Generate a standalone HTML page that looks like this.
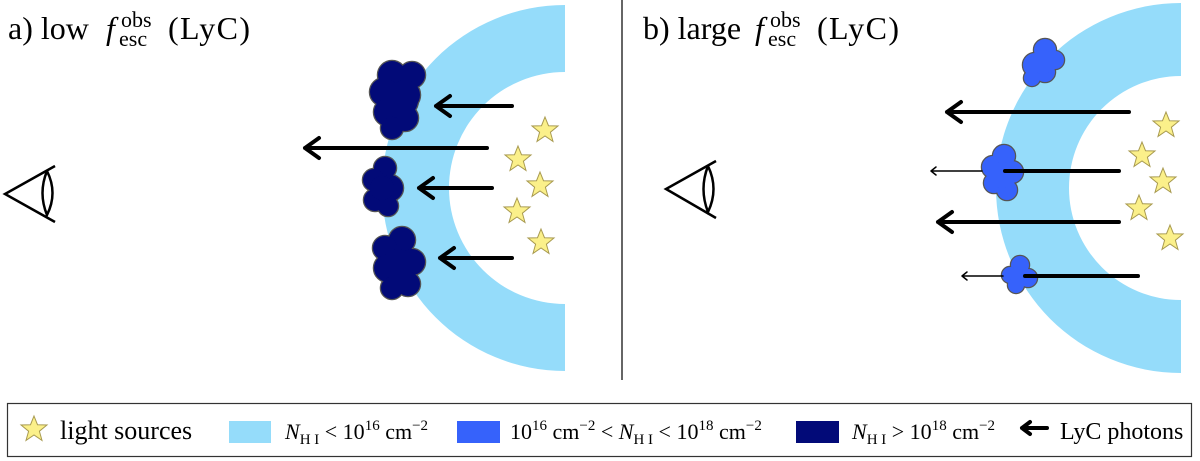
<!DOCTYPE html>
<html><head><meta charset="utf-8"><style>
body{margin:0;background:#fff;}
svg{display:block;}
text{font-family:"Liberation Serif",serif;fill:#000;}
</style></head><body>
<svg width="1200" height="461" viewBox="0 0 1200 461" xmlns="http://www.w3.org/2000/svg">
<defs>
<g id="star"><polygon points="0,-13 3.5,-4.3 13,-4 5.4,2.2 8,11.4 0,6 -8,11.4 -5.4,2.2 -13,-4 -3.5,-4.3" fill="#fbf08a" stroke="#a89a50" stroke-width="1"/></g>
<g id="c1"><circle cx="392" cy="75" r="14"/><circle cx="412" cy="75" r="13"/><circle cx="384" cy="92" r="14"/><circle cx="405" cy="95" r="15"/><circle cx="388" cy="112" r="14"/><circle cx="405" cy="118" r="13"/><circle cx="392" cy="128" r="11"/><circle cx="400" cy="100" r="18"/></g>
<g id="c2"><circle cx="385" cy="168" r="11"/><circle cx="374" cy="180" r="11"/><circle cx="390" cy="188" r="13"/><circle cx="375" cy="200" r="11"/><circle cx="388" cy="206" r="10"/><circle cx="382" cy="188" r="12"/></g>
<g id="c3"><circle cx="402" cy="240" r="13"/><circle cx="385" cy="248" r="12"/><circle cx="412" cy="262" r="13"/><circle cx="388" cy="268" r="14"/><circle cx="408" cy="284" r="12"/><circle cx="392" cy="288" r="11"/><circle cx="398" cy="265" r="16"/></g>
<g id="b1"><circle cx="1045" cy="50" r="11"/><circle cx="1055" cy="60" r="9"/><circle cx="1035" cy="65" r="12"/><circle cx="1045" cy="72" r="10"/><circle cx="1032" cy="78" r="8"/><circle cx="1043" cy="62" r="12"/></g>
<g id="b2"><circle cx="1004" cy="156" r="11"/><circle cx="993" cy="167" r="11"/><circle cx="1012" cy="172" r="11"/><circle cx="994" cy="183" r="10"/><circle cx="1007" cy="190" r="10"/><circle cx="1002" cy="175" r="13"/></g>
<g id="b3"><circle cx="1020" cy="265" r="9"/><circle cx="1010" cy="275" r="8"/><circle cx="1028" cy="278" r="9"/><circle cx="1016" cy="285" r="8"/><circle cx="1020" cy="276" r="10"/></g>
</defs>
<path d="M565,5 A183,183 0 0 0 565,371 L565,304 A116,116 0 0 1 565,72 Z" fill="#95dcfa"/>
<path d="M1181,3 A185,185 0 0 0 1181,373 L1181,300 A112,112 0 0 1 1181,76 Z" fill="#95dcfa"/>
<line x1="622" y1="0" x2="622" y2="380" stroke="#333" stroke-width="1.5"/>
<text x="8" y="39" font-size="32">a) low</text>
<text x="106" y="39" font-size="32" font-style="italic">f</text>
<text x="121" y="27" font-size="22">obs</text>
<text x="119" y="46" font-size="22">esc</text>
<text x="168" y="39" font-size="32" textLength="82">(LyC)</text>
<text x="643" y="39" font-size="32">b) large</text>
<text x="755" y="39" font-size="32" font-style="italic">f</text>
<text x="770" y="27" font-size="22">obs</text>
<text x="768" y="46" font-size="22">esc</text>
<text x="817" y="39" font-size="32" textLength="82">(LyC)</text>
<g fill="none" stroke="#000" stroke-width="2.5">
<path d="M55,166 L5,194 L55,222 M47,171 Q58,193 47,215 Q38,193 47,171"/>
<path d="M716,161 L666,189 L716,218 M708,166 Q719,189 708,212 Q699,189 708,166"/>
</g>
<g fill="#555" stroke="#555" stroke-width="2.5"><use href="#c1"/><use href="#c2"/><use href="#c3"/><use href="#b1"/><use href="#b2"/><use href="#b3"/></g>
<g fill="#020a78"><use href="#c1"/><use href="#c2"/><use href="#c3"/></g>
<g fill="#3662fb"><use href="#b1"/><use href="#b2"/><use href="#b3"/></g>
<g fill="none" stroke="#000" stroke-linecap="round" stroke-linejoin="round">
<g stroke-width="4">
<path d="M512,106 L436,106 M450,96 L436,106 L450,116"/>
<path d="M487,148 L305,148 M319,138 L305,148 L319,158"/>
<path d="M492,188 L419,188 M433,178 L419,188 L433,198"/>
<path d="M512,258 L440,258 M454,248 L440,258 L454,268"/>
<path d="M1129,112 L947,112 M961,102 L947,112 L961,122"/>
<path d="M1119,222 L938,222 M952,212 L938,222 L952,232"/>
<path d="M1005,171 L1119,171"/>
<path d="M1025,276 L1138,276"/>
<path d="M1022,428 L1047,428 M1030,422 L1022,428 L1030,434"/>
</g>
<g stroke-width="1.5">
<path d="M982,171 L931,171 M936,167 L931,171 L936,175"/>
<path d="M1003,276 L962,276 M967,272 L962,276 L967,280"/>
</g>
</g>
<use href="#star" x="545" y="130"/><use href="#star" x="518" y="159"/><use href="#star" x="540" y="185"/><use href="#star" x="517" y="211"/><use href="#star" x="541" y="242"/>
<use href="#star" x="1166" y="125"/><use href="#star" x="1142" y="155"/><use href="#star" x="1163" y="181"/><use href="#star" x="1139" y="208"/><use href="#star" x="1170" y="238"/>
<rect x="7.5" y="403.5" width="1184" height="53" fill="none" stroke="#333" stroke-width="1.2"/>
<use href="#star" x="34" y="429"/>
<text x="60" y="439" font-size="26">light sources</text>
<rect x="229" y="421" width="42" height="22" fill="#95dcfa"/>
<text x="285" y="439" font-size="22"><tspan font-style="italic">N</tspan><tspan font-size="15" dy="5">H I</tspan><tspan dy="-5"> &lt; 10</tspan><tspan font-size="15" dy="-9">16</tspan><tspan dy="9"> cm</tspan><tspan font-size="15" dy="-9">−2</tspan></text>
<rect x="457" y="421" width="43" height="22" fill="#3662fb"/>
<text x="510" y="439" font-size="22">10<tspan font-size="15" dy="-9">16</tspan><tspan dy="9"> cm</tspan><tspan font-size="15" dy="-9">−2</tspan><tspan dy="9"> &lt; </tspan><tspan font-style="italic">N</tspan><tspan font-size="15" dy="5">H I</tspan><tspan dy="-5"> &lt; 10</tspan><tspan font-size="15" dy="-9">18</tspan><tspan dy="9"> cm</tspan><tspan font-size="15" dy="-9">−2</tspan></text>
<rect x="796" y="421" width="43" height="22" fill="#020a78"/>
<text x="852" y="439" font-size="22"><tspan font-style="italic">N</tspan><tspan font-size="15" dy="5">H I</tspan><tspan dy="-5"> &gt; 10</tspan><tspan font-size="15" dy="-9">18</tspan><tspan dy="9"> cm</tspan><tspan font-size="15" dy="-9">−2</tspan></text>
<text x="1060" y="439" font-size="24">LyC photons</text>
</svg>
</body></html>
